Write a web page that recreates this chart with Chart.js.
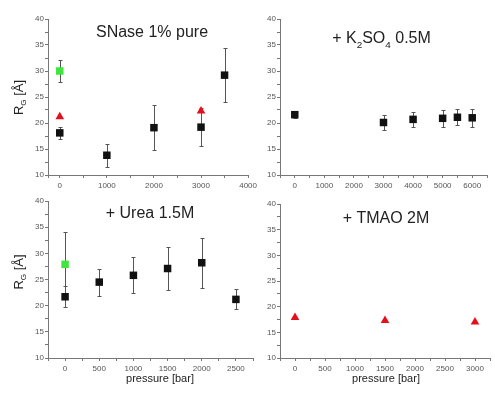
<!DOCTYPE html>
<html>
<head>
<meta charset="utf-8">
<script src="https://cdn.jsdelivr.net/npm/chart.js@4.4.1/dist/chart.umd.min.js"></script>
<style>
  body { margin: 0; background: #fff; }
  #wrap { position: relative; width: 495px; height: 394px; }
  canvas { position: absolute; }
</style>
</head>
<body>
<div id="wrap">
  <canvas id="cPure" width="260" height="195" style="left:0;top:0"></canvas>
  <canvas id="cK2so4" width="245" height="195" style="left:250px;top:0"></canvas>
  <canvas id="cUrea" width="260" height="199" style="left:0;top:195px"></canvas>
  <canvas id="cTmao" width="245" height="199" style="left:250px;top:195px"></canvas>
</div>
<script>
// SNase 1% pure
const pureP = [0, 1000, 2000, 3000, 3500];
const pureRg = [18.1, 13.8, 19.1, 19.2, 29.2];
const pureErr = [1.1, 2.2, 4.35, 3.6, 5.2];
const pureGreenP = [0];
const pureGreenRg = [30.0];
const pureGreenErr = [2.1];
const pureRedP = [0, 3000];
const pureRedRg = [21.2, 22.3];

// + K2SO4 0.5M
const k2so4P = [0, 3000, 4000, 5000, 5500, 6000];
const k2so4Rg = [21.6, 20.1, 20.7, 20.9, 21.1, 21.0];
const k2so4Err = [0.6, 1.45, 1.5, 1.6, 1.5, 1.7];

// + Urea 1.5M
const ureaP = [0, 500, 1000, 1500, 2000, 2500];
const ureaRg = [21.7, 24.5, 25.8, 27.1, 28.2, 21.2];
const ureaErr = [2.0, 2.6, 3.45, 4.05, 4.8, 1.9];
const ureaGreenP = [0];
const ureaGreenRg = [27.9];
const ureaGreenErr = [6.1];

// + TMAO 2M
const tmaoP = [0, 1500, 3000];
const tmaoRg = [17.9, 17.3, 17.0];

const FONT = '"Liberation Sans", Arial, sans-serif';
const BLACK = '#111';
const GREEN = '#3ee63e';
const RED = '#e3101c';

function pts(xs, ys) {
  return xs.map((x, i) => ({ x: x, y: ys[i] }));
}

// tick values: axis start, then every step up to the end
function tickList(min, max, step) {
  const out = [min];
  for (let v = Math.ceil(min / step) * step; v <= max + 1e-9; v += step) {
    if (v > min) out.push(Math.round(v * 100) / 100);
  }
  return out.map(v => ({ value: v }));
}

// vertical error bars with caps, drawn under the markers
const errorBars = {
  id: 'errorBars',
  beforeDatasetsDraw(chart) {
    const ctx = chart.ctx;
    const x = chart.scales.x, y = chart.scales.y;
    chart.data.datasets.forEach(ds => {
      if (!ds.errors) return;
      ctx.save();
      ctx.strokeStyle = '#555';
      ctx.lineWidth = 1;
      ds.data.forEach((p, i) => {
        const e = ds.errors[i];
        const px = Math.round(x.getPixelForValue(p.x)) + 0.5;
        const top = Math.round(y.getPixelForValue(p.y + e)) + 0.5;
        const bot = Math.round(y.getPixelForValue(p.y - e)) + 0.5;
        ctx.beginPath();
        ctx.moveTo(px, top); ctx.lineTo(px, bot);
        ctx.moveTo(px - 2, top); ctx.lineTo(px + 2, top);
        ctx.moveTo(px - 2, bot); ctx.lineTo(px + 2, bot);
        ctx.stroke();
      });
      ctx.restore();
    });
  }
};

// free text with subscripts (panel titles, axis titles)
const panelText = {
  id: 'panelText',
  afterDraw(chart, args, opts) {
    const ctx = chart.ctx;
    (opts.items || []).forEach(it => {
      const sz = p => p.sub ? it.size * 0.62 : it.size;
      ctx.save();
      ctx.translate(it.x, it.y);
      if (it.rotate) ctx.rotate(it.rotate);
      ctx.fillStyle = it.color || '#222';
      ctx.textBaseline = 'alphabetic';
      let w = 0;
      it.parts.forEach(p => { ctx.font = sz(p) + 'px ' + FONT; w += ctx.measureText(p.t).width; });
      let cx = -w / 2;
      it.parts.forEach(p => {
        ctx.font = sz(p) + 'px ' + FONT;
        ctx.fillText(p.t, cx, p.sub ? it.size * 0.3 : 0);
        cx += ctx.measureText(p.t).width;
      });
      ctx.restore();
    });
  }
};

const rgTitle = [{ t: 'R' }, { t: 'G', sub: true }, { t: ' [\u00C5]' }];
const pressTitle = [{ t: 'pressure [bar]' }];

function panel(id, cfg) {
  new Chart(document.getElementById(id), {
    type: 'scatter',
    data: { datasets: cfg.datasets },
    options: {
      responsive: false,
      animation: false,
      devicePixelRatio: 1,
      layout: { padding: cfg.padding },
      plugins: {
        legend: { display: false },
        tooltip: { enabled: false },
        panelText: { items: cfg.texts }
      },
      scales: {
        x: {
          type: 'linear',
          min: cfg.xMin, max: cfg.xMax,
          afterBuildTicks: s => { s.ticks = tickList(cfg.xMin, cfg.xMax, cfg.xStep); },
          afterFit: s => { s.height = cfg.xHeight; },
          border: { color: '#777' },
          grid: { drawOnChartArea: false, tickLength: 3, color: '#777' },
          ticks: {
            autoSkip: false, maxRotation: 0, padding: 3,
            color: '#555', font: { size: 8, family: FONT },
            callback: v => (v >= 0 && v <= cfg.xLast && v % cfg.xLabelStep === 0) ? v : ''
          }
        },
        y: {
          min: 10, max: 40,
          afterBuildTicks: s => { s.ticks = tickList(10, 40, 2.5); },
          afterFit: s => { s.width = cfg.yWidth; },
          border: { color: '#777' },
          grid: { drawOnChartArea: false, tickLength: 3, color: '#777' },
          ticks: {
            autoSkip: false, padding: 1,
            color: '#555', font: { size: 8, family: FONT },
            callback: v => v % 5 === 0 ? v : ''
          }
        }
      }
    },
    plugins: [errorBars, panelText]
  });
}

function blackSet(xs, ys, err) {
  return { data: pts(xs, ys), errors: err, pointStyle: 'rect', pointRadius: 5.3,
           backgroundColor: BLACK, borderColor: BLACK, borderWidth: 0, order: 1 };
}
function greenSet(xs, ys, err) {
  return { data: pts(xs, ys), errors: err, pointStyle: 'rect', pointRadius: 5.3,
           backgroundColor: GREEN, borderColor: GREEN, borderWidth: 0, order: 2 };
}
function redSet(xs, ys) {
  return { data: pts(xs, ys), pointStyle: 'triangle', pointRadius: 5,
           backgroundColor: RED, borderColor: RED, borderWidth: 0, order: 0 };
}

panel('cPure', {
  datasets: [greenSet(pureGreenP, pureGreenRg, pureGreenErr), blackSet(pureP, pureRg, pureErr), redSet(pureRedP, pureRedRg)],
  padding: { top: 19, right: 8, bottom: 0, left: 0 },
  xMin: -250, xMax: 4000, xStep: 500, xLabelStep: 1000, xLast: 4000, xHeight: 20, yWidth: 48,
  texts: [
    { x: 152, y: 36.5, size: 16, parts: [{ t: 'SNase 1% pure' }] },
    { x: 22.5, y: 97.5, size: 13, rotate: -Math.PI / 2, parts: rgTitle }
  ]
});

panel('cK2so4', {
  datasets: [blackSet(k2so4P, k2so4Rg, k2so4Err)],
  padding: { top: 19, right: 8, bottom: 0, left: 0 },
  xMin: -500, xMax: 6500, xStep: 500, xLabelStep: 1000, xLast: 6000, xHeight: 20, yWidth: 30,
  texts: [
    { x: 131.5, y: 43.3, size: 16, parts: [{ t: '+ K' }, { t: '2', sub: true }, { t: 'SO' }, { t: '4', sub: true }, { t: ' 0.5M' }] }
  ]
});

panel('cUrea', {
  datasets: [greenSet(ureaGreenP, ureaGreenRg, ureaGreenErr), blackSet(ureaP, ureaRg, ureaErr)],
  padding: { top: 6, right: 7, bottom: 0, left: 0 },
  xMin: -250, xMax: 2750, xStep: 250, xLabelStep: 500, xLast: 2500, xHeight: 36, yWidth: 48,
  texts: [
    { x: 150, y: 23.3, size: 16, parts: [{ t: '+ Urea 1.5M' }] },
    { x: 22.5, y: 77, size: 13, rotate: -Math.PI / 2, parts: rgTitle },
    { x: 160, y: 187, size: 11, parts: pressTitle }
  ]
});

panel('cTmao', {
  datasets: [redSet(tmaoP, tmaoRg)],
  padding: { top: 9, right: 2, bottom: 0, left: 0 },
  xMin: -250, xMax: 3250, xStep: 250, xLabelStep: 500, xLast: 3000, xHeight: 36, yWidth: 30,
  texts: [
    { x: 136, y: 28.3, size: 16, parts: [{ t: '+ TMAO 2M' }] },
    { x: 136, y: 187, size: 11, parts: pressTitle }
  ]
});
</script>
</body>
</html>
